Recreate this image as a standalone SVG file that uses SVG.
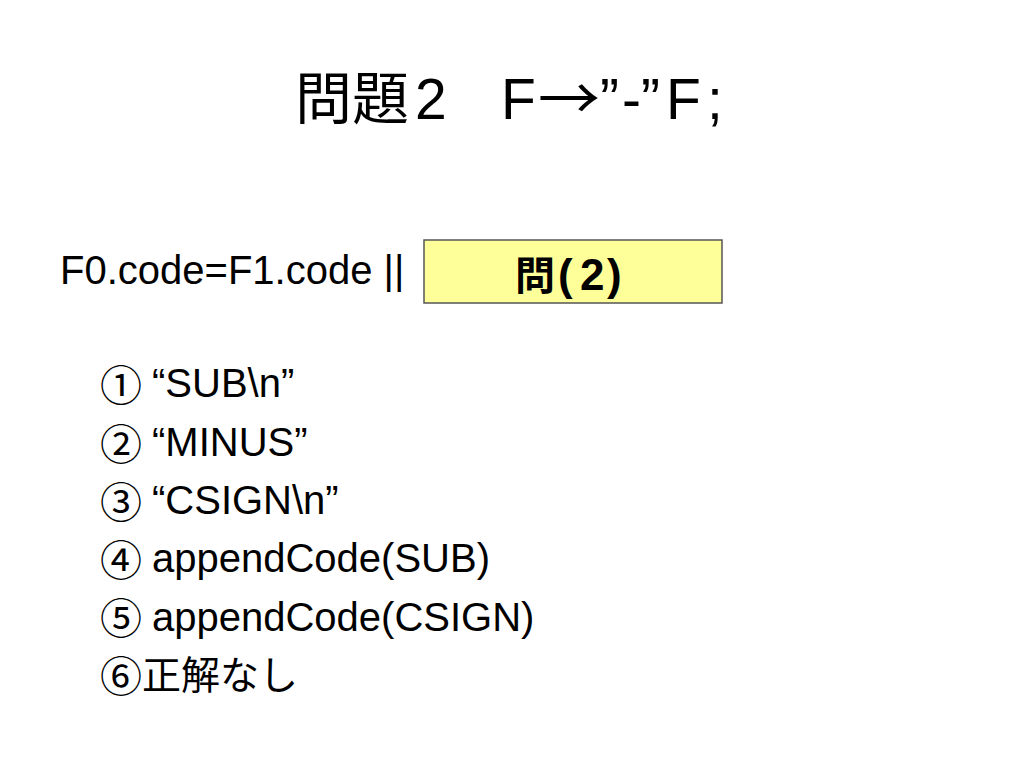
<svg xmlns="http://www.w3.org/2000/svg" width="1024" height="768" viewBox="0 0 1024 768">
<style>
text{font-family:"Liberation Sans","Noto Sans CJK JP",sans-serif;fill:#000}
.cjk{font-family:"Noto Sans CJK JP",sans-serif}
.title{font-size:57px}
.body{font-size:40px}
.num{font-family:"Noto Sans CJK JP",sans-serif;font-size:42px}
.q{font-weight:bold}
</style>
<rect width="1024" height="768" fill="#fff"/>
<g id="title">
<text class="title" y="119"><tspan class="cjk" x="295">問題</tspan><tspan x="415">2</tspan><tspan x="501">F</tspan><tspan x="600">”</tspan><tspan x="622">-</tspan><tspan x="641">”</tspan><tspan x="666">F</tspan><tspan x="707">;</tspan></text>
<text class="title cjk" x="538" y="119" textLength="62" lengthAdjust="spacingAndGlyphs">→</text>
</g>
<g id="expr"><text class="body" x="60" y="284" font-size="39.5">F0.code=F1.code ||</text></g>
<g id="box">
<rect x="424" y="240" width="298" height="63" fill="#FFFF99" stroke="#555" stroke-width="1.5"/>
<text class="q" y="290"><tspan class="cjk" x="515" font-size="40">問</tspan><tspan x="558" font-size="44">(</tspan><tspan x="580" font-size="44">2</tspan><tspan x="607" font-size="44">)</tspan></text>
</g>
<g id="options">
<text class="body"><tspan class="num" x="100" y="401">①</tspan><tspan x="152" y="397">“SUB\n”</tspan></text>
<text class="body"><tspan class="num" x="100" y="460">②</tspan><tspan x="152" y="456">“MINUS”</tspan></text>
<text class="body"><tspan class="num" x="100" y="518">③</tspan><tspan x="152" y="514">“CSIGN\n”</tspan></text>
<text class="body"><tspan class="num" x="100" y="576">④</tspan><tspan x="152" y="572">appendCode(SUB)</tspan></text>
<text class="body"><tspan class="num" x="100" y="634">⑤</tspan><tspan x="152" y="631">appendCode(CSIGN)</tspan></text>
<text class="body"><tspan class="num" x="100" y="692">⑥</tspan><tspan class="cjk" x="142" y="689" font-size="39">正解なし</tspan></text>
</g>
</svg>
